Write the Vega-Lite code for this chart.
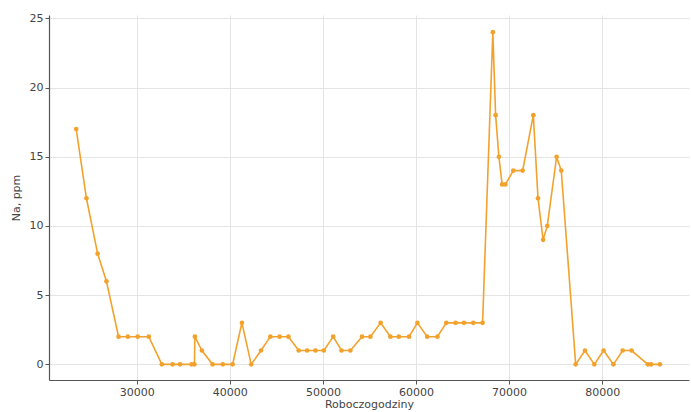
{
  "$schema": "https://vega.github.io/schema/vega-lite/v6.json",
  "width": 640,
  "height": 365,
  "autosize": {"type": "none"},
  "padding": {"left": 49, "top": 15, "right": 2, "bottom": 32},
  "background": "white",
  "config": {
    "view": {"stroke": null},
    "font": "DejaVu Sans"
  },
  "data": {
    "values": [
      {"h": 23500, "na": 17},
      {"h": 24600, "na": 12},
      {"h": 25800, "na": 8},
      {"h": 26750, "na": 6},
      {"h": 28050, "na": 2},
      {"h": 29050, "na": 2},
      {"h": 30100, "na": 2},
      {"h": 31300, "na": 2},
      {"h": 32700, "na": 0},
      {"h": 33850, "na": 0},
      {"h": 34650, "na": 0},
      {"h": 35900, "na": 0},
      {"h": 36200, "na": 0},
      {"h": 36250, "na": 2},
      {"h": 37000, "na": 1},
      {"h": 38150, "na": 0},
      {"h": 39250, "na": 0},
      {"h": 40300, "na": 0},
      {"h": 41300, "na": 3},
      {"h": 42300, "na": 0},
      {"h": 43350, "na": 1},
      {"h": 44350, "na": 2},
      {"h": 45350, "na": 2},
      {"h": 46300, "na": 2},
      {"h": 47400, "na": 1},
      {"h": 48300, "na": 1},
      {"h": 49200, "na": 1},
      {"h": 50100, "na": 1},
      {"h": 51100, "na": 2},
      {"h": 52000, "na": 1},
      {"h": 52950, "na": 1},
      {"h": 54200, "na": 2},
      {"h": 55100, "na": 2},
      {"h": 56200, "na": 3},
      {"h": 57250, "na": 2},
      {"h": 58150, "na": 2},
      {"h": 59250, "na": 2},
      {"h": 60150, "na": 3},
      {"h": 61200, "na": 2},
      {"h": 62300, "na": 2},
      {"h": 63250, "na": 3},
      {"h": 64250, "na": 3},
      {"h": 65150, "na": 3},
      {"h": 66150, "na": 3},
      {"h": 67150, "na": 3},
      {"h": 68250, "na": 24},
      {"h": 68550, "na": 18},
      {"h": 68900, "na": 15},
      {"h": 69250, "na": 13},
      {"h": 69600, "na": 13},
      {"h": 70450, "na": 14},
      {"h": 71450, "na": 14},
      {"h": 72600, "na": 18},
      {"h": 73100, "na": 12},
      {"h": 73650, "na": 9},
      {"h": 74100, "na": 10},
      {"h": 75100, "na": 15},
      {"h": 75600, "na": 14},
      {"h": 77150, "na": 0},
      {"h": 78150, "na": 1},
      {"h": 79150, "na": 0},
      {"h": 80150, "na": 1},
      {"h": 81200, "na": 0},
      {"h": 82200, "na": 1},
      {"h": 83150, "na": 1},
      {"h": 84900, "na": 0},
      {"h": 85250, "na": 0},
      {"h": 86200, "na": 0}
    ]
  },
  "encoding": {
    "x": {
      "field": "h",
      "type": "quantitative",
      "scale": {"domain": [20580, 89320], "nice": false, "zero": false},
      "axis": {
        "title": "Roboczogodziny",
        "values": [30000, 40000, 50000, 60000, 70000, 80000],
        "format": "d",
        "grid": true,
        "gridColor": "#e4e4e4",
        "gridWidth": 1,
        "domainColor": "#555555",
        "domainWidth": 1.2,
        "tickColor": "#555555",
        "tickSize": 4,
        "labelColor": "#444444",
        "labelFontSize": 11,
        "labelPadding": 2,
        "titleColor": "#444444",
        "titleFontSize": 11,
        "titleFontWeight": "normal",
        "titlePadding": 1
      }
    },
    "y": {
      "field": "na",
      "type": "quantitative",
      "scale": {"domain": [-1.13, 25.24], "nice": false, "zero": false},
      "axis": {
        "title": "Na, ppm",
        "values": [0, 5, 10, 15, 20, 25],
        "grid": true,
        "gridColor": "#e4e4e4",
        "gridWidth": 1,
        "domainColor": "#555555",
        "domainWidth": 1.2,
        "tickColor": "#555555",
        "tickSize": 4,
        "labelColor": "#444444",
        "labelFontSize": 11,
        "labelPadding": 2,
        "titleColor": "#444444",
        "titleFontSize": 11,
        "titleFontWeight": "normal",
        "titlePadding": 8
      }
    }
  },
  "layer": [
    {
      "mark": {"type": "line", "color": "#f2a22c", "strokeWidth": 1.6}
    },
    {
      "mark": {"type": "point", "filled": true, "color": "#f2a22c", "size": 22, "opacity": 1}
    }
  ]
}
